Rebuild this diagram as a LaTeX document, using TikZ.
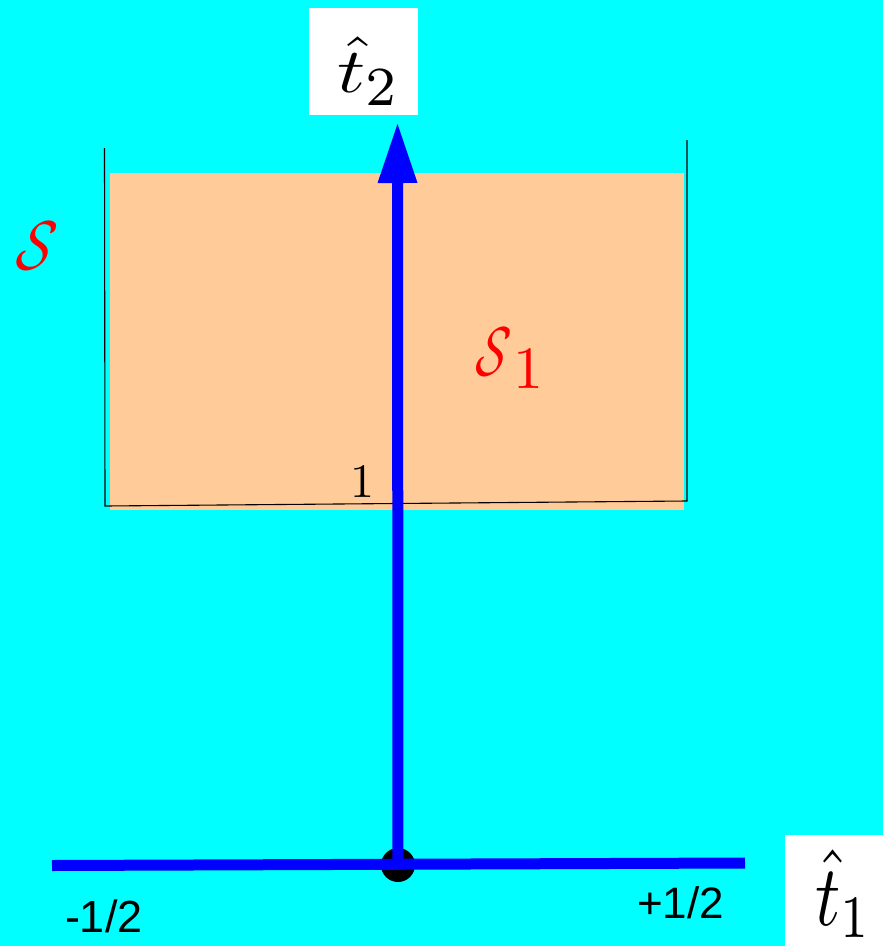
\documentclass[tikz,border=0pt]{standalone}
\usepackage{fontspec}
\newfontfamily\arialfont{Liberation Sans}
\usetikzlibrary{arrows.meta}
\definecolor{bgcyan}{HTML}{00FFFF}
\definecolor{peach}{HTML}{FFCB99}
\begin{document}
\begin{tikzpicture}[x=1pt,y=-1pt,
  axis/.style={draw=blue, line width=11pt},
  frameline/.style={draw=black, line width=1.1pt},
  lbl/.style={inner sep=0pt, outer sep=0pt},
  whitebox/.style={fill=white, inner sep=0pt, anchor=north west}]
\fill[bgcyan] (0,0) rectangle (883,946);
\useasboundingbox (0,0) rectangle (883,946);
% region S1
\node[fill=peach, minimum width=574pt, minimum height=337pt, inner sep=0pt, anchor=north west] (S1box) at (110,173) {};
\coordinate (fl1) at (104.5,148);
\coordinate (fl2) at (105,506);
\coordinate (fr2) at (687,501);
\coordinate (fr1) at (687,140);
\draw[frameline] (fl1) -- (fl2) -- (fr2) -- (fr1);
% axes
\node[circle, fill=black, minimum size=34pt, inner sep=0pt] (O) at (398,865) {};
\coordinate (hl) at (52,865.5);
\coordinate (hr) at (745,863);
\draw[axis] (hl) -- (hr);
\coordinate (vt) at (397.5,124);
\draw[axis, -{Triangle[length=59pt,width=40pt,line width=0pt]}] (O.center) -- (vt);
% axis label boxes
\node[whitebox, minimum width=109pt, minimum height=107pt] (t2box) at (309,8) {};
\node[lbl, anchor=base west, xscale=7.8, yscale=6.3] (t2) at (337,92)
  {$\hat{t}_{\scalebox{1}[1.25]{$\scriptstyle 2$}}$};
\node[whitebox, minimum width=98pt, minimum height=111pt] (t1box) at (785,835) {};
\node[lbl, anchor=base west, xscale=7, yscale=8.6] (t1) at (815,925) {$\hat{t}_1$};
% labels
\node[lbl, text=red, xscale=5.4, yscale=6.9, xslant=0.22] (S) at (37,246) {$\mathcal{S}$};
\node[lbl, text=red, xscale=4.6, yscale=6.9, xslant=0.22] (S1) at (493.5,352) {$\mathcal{S}$};
\node[lbl, text=red, anchor=base, scale=6] (S1sub) at (528,388) {1};
\node[lbl, anchor=base, scale=4.8] (one) at (362.5,497) {1};
\node[lbl, anchor=base west, font=\arialfont\fontsize{45}{50}\selectfont] (mhalf) at (65,932) {-1/2};
\node[lbl, anchor=base west, font=\arialfont\fontsize{44}{50}\selectfont] (phalf) at (637,918) {+1/2};
\end{tikzpicture}
\end{document}
